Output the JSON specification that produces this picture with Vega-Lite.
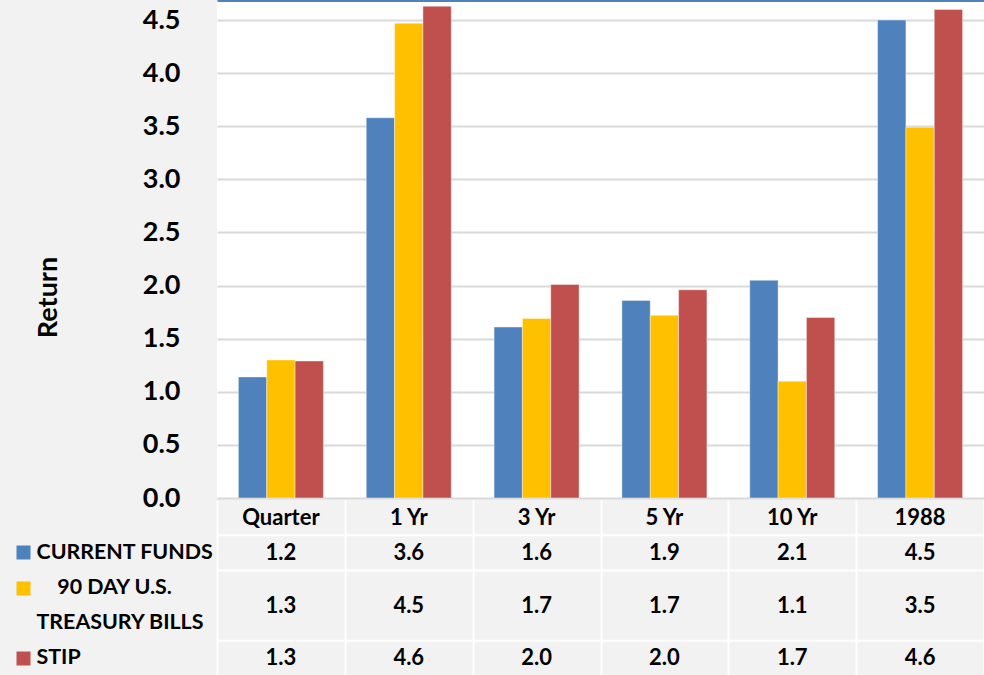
{
  "$schema": "https://vega.github.io/schema/vega-lite/v6.json",
  "background": "#f2f2f2",
  "padding": {"left": 9, "top": 0, "right": 0, "bottom": 0},
  "spacing": 2,
  "bounds": "flush",
  "config": {"font": "Lato", "view": {"stroke": null}},
  "datasets": {
    "returns": [
      {"period": "Quarter", "series": "CURRENT FUNDS", "value": 1.14, "label": "1.2"},
      {"period": "Quarter", "series": "90 DAY U.S. TREASURY BILLS", "value": 1.30, "label": "1.3"},
      {"period": "Quarter", "series": "STIP", "value": 1.29, "label": "1.3"},
      {"period": "1 Yr", "series": "CURRENT FUNDS", "value": 3.58, "label": "3.6"},
      {"period": "1 Yr", "series": "90 DAY U.S. TREASURY BILLS", "value": 4.47, "label": "4.5"},
      {"period": "1 Yr", "series": "STIP", "value": 4.63, "label": "4.6"},
      {"period": "3 Yr", "series": "CURRENT FUNDS", "value": 1.61, "label": "1.6"},
      {"period": "3 Yr", "series": "90 DAY U.S. TREASURY BILLS", "value": 1.69, "label": "1.7"},
      {"period": "3 Yr", "series": "STIP", "value": 2.01, "label": "2.0"},
      {"period": "5 Yr", "series": "CURRENT FUNDS", "value": 1.86, "label": "1.9"},
      {"period": "5 Yr", "series": "90 DAY U.S. TREASURY BILLS", "value": 1.72, "label": "1.7"},
      {"period": "5 Yr", "series": "STIP", "value": 1.96, "label": "2.0"},
      {"period": "10 Yr", "series": "CURRENT FUNDS", "value": 2.05, "label": "2.1"},
      {"period": "10 Yr", "series": "90 DAY U.S. TREASURY BILLS", "value": 1.10, "label": "1.1"},
      {"period": "10 Yr", "series": "STIP", "value": 1.70, "label": "1.7"},
      {"period": "1988", "series": "CURRENT FUNDS", "value": 4.50, "label": "4.5"},
      {"period": "1988", "series": "90 DAY U.S. TREASURY BILLS", "value": 3.49, "label": "3.5"},
      {"period": "1988", "series": "STIP", "value": 4.60, "label": "4.6"}
    ],
    "borders": [
      {"row": "CURRENT FUNDS"},
      {"row": "90 DAY U.S. TREASURY BILLS"},
      {"row": "STIP"}
    ]
  },
  "vconcat": [
    {
      "width": 767,
      "height": 496,
      "view": {"fill": "white", "stroke": null},
      "data": {"name": "returns"},
      "mark": {"type": "bar", "stroke": "white", "strokeOpacity": 0.4, "strokeWidth": 1},
      "encoding": {
        "x": {
          "field": "period", "type": "nominal",
          "sort": ["Quarter", "1 Yr", "3 Yr", "5 Yr", "10 Yr", "1988"],
          "scale": {"paddingInner": 0.335, "paddingOuter": 0.1675},
          "axis": {"orient": "top", "title": null, "labels": false, "ticks": false,
                   "domainColor": "#4f81bd", "domainWidth": 3, "offset": 2}
        },
        "xOffset": {
          "field": "series", "type": "nominal",
          "sort": ["CURRENT FUNDS", "90 DAY U.S. TREASURY BILLS", "STIP"],
          "scale": {"paddingInner": 0, "paddingOuter": 0}
        },
        "y": {
          "field": "value", "type": "quantitative",
          "scale": {"domain": [0, 4.67], "nice": false, "zero": true},
          "axis": {
            "values": [0, 0.5, 1, 1.5, 2, 2.5, 3, 3.5, 4, 4.5],
            "format": ".1f",
            "title": "Return",
            "titleFontSize": 27, "titleFontWeight": "bold", "titleColor": "black",
            "titlePadding": 80,
            "titleY": 295,
            "labelFontSize": 27, "labelFontWeight": "bold", "labelColor": "black",
            "labelPadding": 37,
            "ticks": false, "domain": false,
            "gridColor": "#d9d9d9", "gridWidth": 2
          }
        },
        "color": {
          "field": "series", "type": "nominal",
          "sort": ["CURRENT FUNDS", "90 DAY U.S. TREASURY BILLS", "STIP"],
          "scale": {"range": ["#4f81bd", "#ffc000", "#c0504d"]},
          "legend": null
        }
      }
    },
    {
      "width": 767,
      "height": 176,
      "layer": [
        {
          "data": {"name": "borders"},
          "mark": {"type": "rule", "color": "white", "strokeWidth": 2},
          "encoding": {
            "y": {"field": "row", "type": "nominal", "bandPosition": 0}
          }
        },
        {
          "data": {"name": "returns"},
          "transform": [{"filter": "datum.series == 'CURRENT FUNDS'"}],
          "mark": {"type": "text", "fontSize": 22, "fontWeight": "bold", "color": "black"},
          "encoding": {
            "x": {
              "field": "period", "type": "nominal",
              "sort": ["Quarter", "1 Yr", "3 Yr", "5 Yr", "10 Yr", "1988"],
              "scale": {"paddingInner": 0, "paddingOuter": 0},
              "axis": {"orient": "top", "title": null, "labels": false, "ticks": false, "domain": false,
                       "grid": true, "tickBand": "extent", "gridColor": "white", "gridWidth": 2}
            },
            "y": {
              "datum": "hdr", "type": "nominal",
              "scale": {"domain": ["hdr", "CURRENT FUNDS", "90 DAY U.S. TREASURY BILLS", "TB2", "STIP"],
                        "paddingInner": 0, "paddingOuter": 0},
              "axis": {
                "title": null, "domain": false, "grid": false,
                "offset": 187, "tickSize": 14, "tickWidth": 14,
                "tickColor": {"expr": "datum.value == 'CURRENT FUNDS' ? '#4f81bd' : datum.value == '90 DAY U.S. TREASURY BILLS' ? '#ffc000' : datum.value == 'STIP' ? '#c0504d' : 'transparent'"},
                "labelPadding": -20, "labelAlign": "left", "labelLimit": 300,
                "labelFontSize": 21.4, "labelFontWeight": "bold", "labelColor": "black",
                "labelExpr": "datum.value == 'CURRENT FUNDS' ? 'CURRENT FUNDS' : datum.value == '90 DAY U.S. TREASURY BILLS' ? '\u200b\u00a0\u00a0\u00a0\u00a090 DAY U.S.' : datum.value == 'TB2' ? 'TREASURY BILLS' : datum.value == 'STIP' ? 'STIP' : ''"
              }
            },
            "text": {"field": "period"}
          }
        },
        {
          "data": {"name": "returns"},
          "transform": [{"filter": "datum.series != '90 DAY U.S. TREASURY BILLS'"}],
          "mark": {"type": "text", "fontSize": 22, "fontWeight": "bold", "color": "black"},
          "encoding": {
            "x": {"field": "period", "type": "nominal", "sort": ["Quarter", "1 Yr", "3 Yr", "5 Yr", "10 Yr", "1988"]},
            "y": {"field": "series", "type": "nominal"},
            "text": {"field": "label"}
          }
        },
        {
          "data": {"name": "returns"},
          "transform": [{"filter": "datum.series == '90 DAY U.S. TREASURY BILLS'"}],
          "mark": {"type": "text", "fontSize": 22, "fontWeight": "bold", "color": "black"},
          "encoding": {
            "x": {"field": "period", "type": "nominal", "sort": ["Quarter", "1 Yr", "3 Yr", "5 Yr", "10 Yr", "1988"]},
            "y": {"field": "series", "type": "nominal", "bandPosition": 1},
            "text": {"field": "label"}
          }
        }
      ]
    }
  ]
}
